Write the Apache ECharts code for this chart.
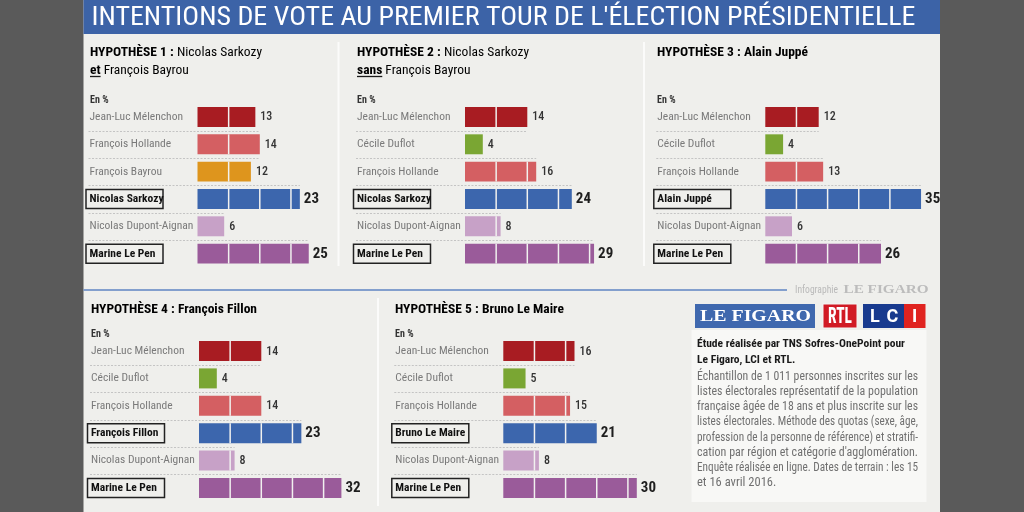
<!DOCTYPE html>
<html><head><meta charset="utf-8">
<script src="https://cdn.jsdelivr.net/npm/echarts@6/dist/echarts.min.js"></script>
<style>html,body{margin:0;padding:0;background:#5a5a5a;}#c{width:1024px;height:512px;}</style>
</head><body><div id="c"></div>
<script>
// ---------- DATA ----------
const chartTitle = "INTENTIONS DE VOTE AU PREMIER TOUR DE L'ÉLECTION PRÉSIDENTIELLE";
const hypLabels = ['HYPOTHÈSE 1 :', 'HYPOTHÈSE 2 :', 'HYPOTHÈSE 3 :', 'HYPOTHÈSE 4 :', 'HYPOTHÈSE 5 :'];
const hypNames = ['Nicolas Sarkozy', 'Nicolas Sarkozy', 'Alain Juppé', 'François Fillon', 'Bruno Le Maire'];
const hypSubLead = ['et', 'sans', '', '', ''];
const hypSubRest = [' François Bayrou', ' François Bayrou', '', '', ''];
const unitLabel = 'En %';

const cat1 = ['Jean-Luc Mélenchon', 'François Hollande', 'François Bayrou', 'Nicolas Sarkozy', 'Nicolas Dupont-Aignan', 'Marine Le Pen'];
const val1 = [13, 14, 12, 23, 6, 25];
const par1 = ['fi', 'ps', 'modem', 'lr', 'dlf', 'fn'];

const cat2 = ['Jean-Luc Mélenchon', 'Cécile Duflot', 'François Hollande', 'Nicolas Sarkozy', 'Nicolas Dupont-Aignan', 'Marine Le Pen'];
const val2 = [14, 4, 16, 24, 8, 29];
const par2 = ['fi', 'eelv', 'ps', 'lr', 'dlf', 'fn'];

const cat3 = ['Jean-Luc Mélenchon', 'Cécile Duflot', 'François Hollande', 'Alain Juppé', 'Nicolas Dupont-Aignan', 'Marine Le Pen'];
const val3 = [12, 4, 13, 35, 6, 26];
const par3 = ['fi', 'eelv', 'ps', 'lr', 'dlf', 'fn'];

const cat4 = ['Jean-Luc Mélenchon', 'Cécile Duflot', 'François Hollande', 'François Fillon', 'Nicolas Dupont-Aignan', 'Marine Le Pen'];
const val4 = [14, 4, 14, 23, 8, 32];
const par4 = ['fi', 'eelv', 'ps', 'lr', 'dlf', 'fn'];

const cat5 = ['Jean-Luc Mélenchon', 'Cécile Duflot', 'François Hollande', 'Bruno Le Maire', 'Nicolas Dupont-Aignan', 'Marine Le Pen'];
const val5 = [16, 5, 15, 21, 8, 30];
const par5 = ['fi', 'eelv', 'ps', 'lr', 'dlf', 'fn'];

const boxedRows = [3, 5];
const candidateRow = 3;

const infoHead = ['Étude réalisée par TNS Sofres-OnePoint pour', 'Le Figaro, LCI et RTL.'];
const infoBody = [
  'Échantillon de 1 011 personnes inscrites sur les',
  'listes électorales représentatif de la population',
  'française âgée de 18 ans et plus inscrite sur les',
  'listes électorales. Méthode des quotas (sexe, âge,',
  'profession de la personne de référence) et stratifi-',
  "cation par région et catégorie d'agglomération.",
  'Enquête réalisée en ligne.  Dates de terrain : les 15',
  'et 16 avril 2016.'
];
const creditLead = 'Infographie';
const creditBrand = 'LE FIGARO';

// ---------- STYLE / LAYOUT ----------
const FONT = "'Liberation Sans Narrow','Roboto Condensed','DejaVu Sans Condensed',Roboto,sans-serif";
const SERIF = "'Liberation Serif','DejaVu Serif',serif";
const partyColor = {fi: '#a81c22', ps: '#d45f62', modem: '#de951d', lr: '#3c66ad', dlf: '#c7a1c7', fn: '#9a5b9a', eelv: '#7aa633'};
const PX = 4.45, XMAX = 40, SEG = 7, LABEL_OFF = 108;
const LBL = 11.5;
const layout = [
  {x0: 90, bx: 197.5, top: 103.3, h: 164, ty: 52.5},
  {x0: 357, bx: 465, top: 103.3, h: 164, ty: 52.5},
  {x0: 657, bx: 765.3, top: 103.3, h: 164, ty: 52.5},
  {x0: 91, bx: 199, top: 337.3, h: 164.4, ty: 310},
  {x0: 395, bx: 503.3, top: 337.3, h: 164.4, ty: 310}
];
const hyps = [
  {cats: cat1, vals: val1, pars: par1},
  {cats: cat2, vals: val2, pars: par2},
  {cats: cat3, vals: val3, pars: par3},
  {cats: cat4, vals: val4, pars: par4},
  {cats: cat5, vals: val5, pars: par5}
];

const mctx = document.createElement('canvas').getContext('2d');
function tw(text, size, weight, family) {
  mctx.font = (weight || 'normal') + ' ' + size + 'px ' + (family || FONT);
  return mctx.measureText(text).width;
}

function makeRender(k) {
  const H = hyps[k];
  return function (params, api) {
    const i = params.dataIndex;
    const v = api.value(0);
    const c0 = api.coord([0, i]);
    const c1 = api.coord([v, i]);
    const band = api.size([0, 1])[1];
    const bh = band * 0.73;
    const yTop = c0[1] - bh / 2;
    const boxed = boxedRows.indexOf(i) >= 0;
    const kids = [];
    if (i < H.vals.length - 1) {
      const sv = (i === candidateRow) ? H.vals[i + 1] : Math.max(v, H.vals[i + 1]);
      const sx = api.coord([sv, i])[0];
      const sy = Math.round(c0[1] + band / 2) + 0.5;
      kids.push({type: 'line', shape: {x1: c0[0] - LABEL_OFF - 1, y1: sy, x2: sx, y2: sy},
        style: {stroke: '#c4c4c4', lineWidth: 1, lineDash: [2, 1.5]}});
    }
    kids.push({type: 'rect', shape: {x: c0[0], y: yTop, width: c1[0] - c0[0], height: bh},
      style: {fill: partyColor[H.pars[i]]}});
    for (let s = SEG; s < v; s += SEG) {
      const sx = api.coord([s, i])[0];
      kids.push({type: 'line', shape: {x1: sx, y1: yTop, x2: sx, y2: yTop + bh},
        style: {stroke: '#f1f1ef', lineWidth: 1.5}});
    }
    if (boxed) {
      kids.push({type: 'rect', shape: {x: c0[0] - LABEL_OFF - 3.5, y: c0[1] - 9.5, width: 77, height: 19},
        style: {fill: 'none', stroke: '#222', lineWidth: 1.5}});
    }
    kids.push({type: 'text', x: c1[0] + (boxed ? 4 : 5), y: c0[1] + 0.5,
      style: {text: String(v), fill: boxed ? '#1e1e1e' : '#333',
        font: (boxed ? 'bold 15px ' : '500 12px ') + FONT, align: 'left', verticalAlign: 'middle'}});
    return {type: 'group', children: kids};
  };
}

const grids = [], xAxes = [], yAxes = [], series = [];
hyps.forEach(function (H, k) {
  const L = layout[k];
  grids.push({left: L.bx, top: L.top, width: XMAX * PX, height: L.h});
  xAxes.push({gridIndex: k, type: 'value', min: 0, max: XMAX, show: false});
  yAxes.push({gridIndex: k, type: 'category', inverse: true, data: H.cats, z: 10,
    axisLine: {show: false}, axisTick: {show: false}, splitLine: {show: false},
    axisLabel: {interval: 0, align: 'left', margin: LABEL_OFF, fontFamily: FONT, fontSize: LBL,
      formatter: function (val, idx) { return boxedRows.indexOf(idx) >= 0 ? '{b|' + val + '}' : '{n|' + val + '}'; },
      rich: {n: {color: '#7a7a7a', fontFamily: FONT, fontSize: LBL},
             b: {color: '#111', fontFamily: FONT, fontSize: LBL, fontWeight: 'bold'}}}});
  series.push({type: 'custom', xAxisIndex: k, yAxisIndex: k, renderItem: makeRender(k),
    encode: {x: 0, y: 1}, data: H.vals.map(function (v, i) { return [v, i]; }), silent: true});
});

// ---------- GRAPHIC ----------
const g = [];
g.push({type: 'rect', z: -10, shape: {x: 83.5, y: 0, width: 856.5, height: 512}, style: {fill: '#efefec'}});
g.push({type: 'rect', z: -9, shape: {x: 83.5, y: 0, width: 856.5, height: 34}, style: {fill: '#3c63a7'}});
// title
(function () {
  const size = 26, w = tw(chartTitle, size, 'normal');
  g.push({type: 'text', x: 91.5, y: 18, scaleX: 824 / w, z: 5,
    style: {text: chartTitle, fill: '#fff', font: size + 'px ' + FONT, align: 'left', verticalAlign: 'middle'}});
})();
// panel separators
[[338.5, 42, 266], [644, 42, 266], [378, 298, 506]].forEach(function (s) {
  g.push({type: 'line', z: -5, shape: {x1: s[0], y1: s[1], x2: s[0], y2: s[2]}, style: {stroke: '#fbfbfa', lineWidth: 2}});
});
g.push({type: 'line', z: -5, shape: {x1: 83.5, y1: 290, x2: 787, y2: 290}, style: {stroke: '#5f84c3', lineWidth: 1.5}});
// hypothesis titles
const TS = 13.5;
hyps.forEach(function (H, k) {
  const L = layout[k];
  const nameW = (k >= 2) ? 'bold' : 'normal';
  g.push({type: 'text', x: L.x0, y: L.ty, z: 5, style: {
    text: '{b|' + hypLabels[k] + '} {n|' + hypNames[k] + '}', align: 'left', verticalAlign: 'middle',
    rich: {b: {fontFamily: FONT, fontSize: TS, fontWeight: 'bold', color: '#1a1a1a'},
           n: {fontFamily: FONT, fontSize: TS, fontWeight: nameW, color: '#1a1a1a'}}}});
  if (hypSubLead[k]) {
    const lw = tw(hypSubLead[k], TS, 'bold');
    g.push({type: 'text', x: L.x0, y: L.ty + 18, z: 5, style: {
      text: '{b|' + hypSubLead[k] + '}{n|' + hypSubRest[k] + '}', align: 'left', verticalAlign: 'middle',
      rich: {b: {fontFamily: FONT, fontSize: TS, fontWeight: 'bold', color: '#1a1a1a'},
             n: {fontFamily: FONT, fontSize: TS, color: '#1a1a1a'}}}});
    g.push({type: 'line', z: 5, shape: {x1: L.x0, y1: L.ty + 24, x2: L.x0 + lw, y2: L.ty + 24}, style: {stroke: '#1a1a1a', lineWidth: 1.3}});
  }
  g.push({type: 'text', x: L.x0, y: L.top - 2.5, z: 5, style: {
    text: unitLabel, fill: '#333', font: 'bold 10px ' + FONT, align: 'left', verticalAlign: 'middle'}});
});
// credit
(function () {
  const w1 = tw(creditLead, 10, 'normal');
  g.push({type: 'text', x: 795, y: 290, scaleX: Math.min(1, 43 / w1), z: 5, style: {text: creditLead, fill: '#b9b9b9', font: '10px ' + FONT, align: 'left', verticalAlign: 'middle'}});
  const w = tw(creditBrand, 13, 'bold', SERIF);
  g.push({type: 'text', x: 843.5, y: 290, scaleX: 85 / w, z: 5, style: {text: creditBrand, fill: '#bcbcbc', font: 'bold 13px ' + SERIF, align: 'left', verticalAlign: 'middle'}});
})();
// logos
(function () {
  g.push({type: 'rect', shape: {x: 695, y: 304, width: 120, height: 24}, style: {fill: '#3f68ae'}});
  const w = tw('LE FIGARO', 17, 'bold', SERIF);
  g.push({type: 'text', x: 700, y: 317, scaleX: 111 / w, z: 5, style: {text: 'LE FIGARO', fill: '#fff', font: 'bold 17px ' + SERIF, align: 'left', verticalAlign: 'middle'}});
  g.push({type: 'rect', shape: {x: 823, y: 304, width: 34, height: 24}, style: {fill: '#d11a24', stroke: '#f4f4f4', lineWidth: 1}});
  const w2 = tw('RTL', 22, 'bold');
  g.push({type: 'text', x: 828, y: 317, scaleX: 24 / w2, z: 5, style: {text: 'RTL', fill: '#fff', font: 'bold 22px ' + FONT, align: 'left', verticalAlign: 'middle'}});
  g.push({type: 'rect', shape: {x: 863, y: 304, width: 41, height: 24}, style: {fill: '#183a8e'}});
  g.push({type: 'rect', shape: {x: 904, y: 304, width: 21.5, height: 24}, style: {fill: '#e0231f'}});
  [['L', 870], ['C', 886.5], ['I', 912]].forEach(function (p) {
    g.push({type: 'text', x: p[1], y: 317, z: 5, style: {text: p[0], fill: '#fff', font: 'bold 18px ' + "Roboto, 'DejaVu Sans', sans-serif", align: 'left', verticalAlign: 'middle'}});
  });
})();
// info box
g.push({type: 'rect', z: -4, shape: {x: 691.5, y: 330, width: 235, height: 172}, style: {fill: '#f8f8f6'}});
infoHead.forEach(function (t, i) {
  g.push({type: 'text', x: 697, y: 344 + i * 16, z: 5, style: {text: t, fill: '#1a1a1a', font: 'bold 11.5px ' + FONT, align: 'left', verticalAlign: 'middle'}});
});
(function () {
  const size = 12.5, X = 697, W = 221;
  infoBody.forEach(function (line, i) {
    const y = 376.7 + i * 15.2;
    const words = line.split(/ +/);
    const justify = i < infoBody.length - 1;
    const ws = words.map(function (w) { return tw(w, size); });
    const total = ws.reduce(function (a, b) { return a + b; }, 0);
    const spaceW = tw(' ', size);
    const natural = total + spaceW * (words.length - 1);
    const scale = natural > W ? W / natural : 1;
    const gap = justify && words.length > 1 ? (W - total * scale) / (words.length - 1) : spaceW * scale;
    let x = X;
    words.forEach(function (w, j) {
      g.push({type: 'text', x: x, y: y, scaleX: scale, z: 5, style: {text: w, fill: '#707070', font: size + 'px ' + FONT, align: 'left', verticalAlign: 'middle'}});
      x += ws[j] * scale + gap;
    });
  });
})();

const chart = echarts.init(document.getElementById('c'));
chart.setOption({
  backgroundColor: '#5a5a5a',
  animation: false,
  grid: grids, xAxis: xAxes, yAxis: yAxes, series: series,
  graphic: {elements: g}
});
</script></body></html>
